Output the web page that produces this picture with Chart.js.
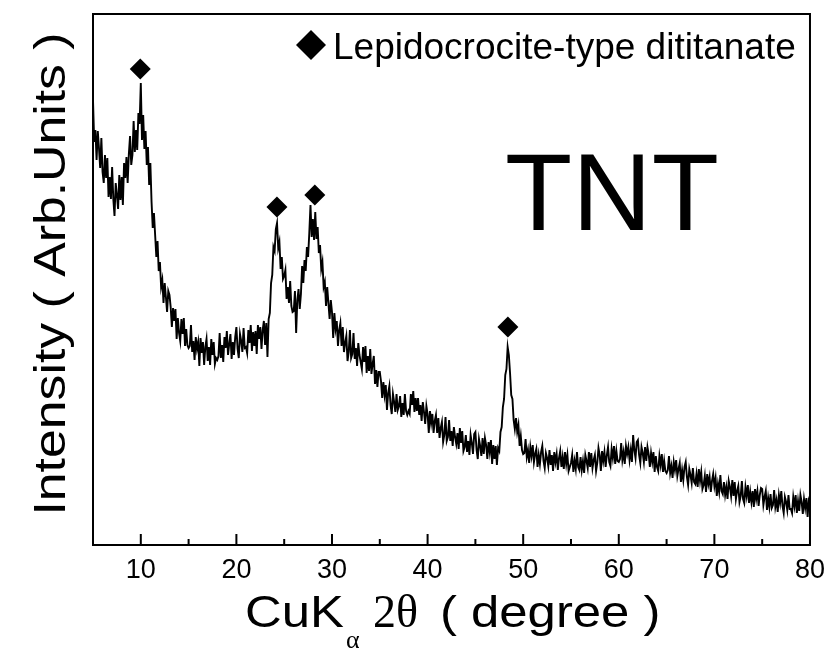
<!DOCTYPE html>
<html>
<head>
<meta charset="utf-8">
<title>TNT XRD pattern</title>
<script src="https://cdn.jsdelivr.net/npm/chart.js@4/dist/chart.umd.min.js"></script>
<style>
  html, body { margin: 0; padding: 0; background: #ffffff; }
  canvas { display: block; }
</style>
</head>
<body>
<canvas id="xrd" width="834" height="650"></canvas>
<script>
// XRD scan of the TNT sample: 2θ from 5° to 80°, one reading every 0.125°
const scanStart = 5;
const scanStep = 0.125;
const intensity = [
  445, 403, 415, 385, 414, 397, 377, 407,   //  5°
  373, 362, 390, 367, 387, 348, 368, 346,   //  6°
  378, 346, 329, 362, 350, 336, 370, 345,   //  7°
  368, 340, 382, 367, 388, 362, 391, 409,   //  8°
  380, 390, 424, 393, 415, 395, 432, 421,   //  9°
  462, 405, 430, 396, 414, 380, 398, 360,   // 10°
  382, 343, 317, 332, 310, 288, 304, 274,   // 11°
  283, 258, 265, 242, 262, 248, 233, 254,   // 12°
  250, 238, 218, 237, 224, 236, 206, 227,   // 13°
  212, 204, 226, 211, 227, 199, 216, 200,   // 14°
  197, 199, 220, 193, 204, 185, 208, 196,   // 15°
  203, 179, 207, 192, 203, 180, 198, 206,   // 16°
  184, 198, 180, 206, 190, 203, 181, 187,   // 17°
  185, 189, 212, 187, 200, 183, 208, 197,   // 18°
  214, 190, 201, 211, 186, 203, 190, 208,   // 19°
  218, 196, 187, 211, 204, 193, 217, 197,   // 20°
  198, 192, 215, 202, 220, 194, 213, 199,   // 21°
  214, 191, 220, 206, 218, 196, 215, 224,   // 22°
  200, 222, 188, 226, 232, 262, 270, 298,   // 23°
  294, 316, 322, 297, 303, 276, 288, 266,   // 24°
  269, 275, 246, 258, 242, 264, 239, 233,   // 25°
  234, 254, 212, 245, 256, 236, 251, 279,   // 26°
  262, 285, 274, 298, 288, 312, 340, 308,   // 27°
  326, 305, 333, 306, 318, 292, 300, 276,   // 28°
  283, 258, 263, 239, 258, 242, 226, 245,   // 29°
  233, 207, 232, 216, 224, 199, 215, 222,   // 30°
  199, 218, 193, 202, 209, 184, 193, 215,   // 31°
  187, 191, 212, 186, 197, 179, 202, 190,   // 32°
  183, 176, 198, 183, 199, 172, 189, 174,   // 33°
  196, 171, 181, 189, 161, 175, 158, 173,   // 34°
  173, 164, 147, 163, 150, 160, 135, 152,   // 35°
  159, 140, 131, 151, 143, 133, 151, 135,   // 36°
  139, 149, 128, 142, 130, 151, 134, 130,   // 37°
  134, 131, 151, 140, 154, 133, 147, 134,   // 38°
  147, 130, 140, 124, 143, 133, 121, 139,   // 39°
  131, 112, 134, 122, 131, 112, 124, 130,   // 40°
  112, 127, 107, 117, 123, 103, 110, 128,   // 41°
  104, 108, 125, 104, 114,  99, 118, 108,   // 42°
  101, 112,  96, 117, 102, 114,  94,  98,   // 43°
  110,  93, 104,  90, 110, 102,  91, 111,   // 44°
  113,  95,  86, 106,  99,  89, 107,  91,   // 45°
  107, 100,  86, 103,  93, 105,  81, 100,   // 46°
   86,  99,  80,  97,  94, 113, 118, 138,   // 47°
  146, 170, 176, 198, 190, 172, 150, 146,   // 48°
  125, 116, 127, 113, 120,  99, 109,  95,   // 49°
   91,  92, 106,  88,  95,  82,  98,  89,   // 50°
  100,  83,  91,  96,  78,  90,  81,  93,   // 51°
   99,  84,  77,  92,  87,  79,  95,  80,   // 52°
   90,  74,  93,  83,  91,  75,  87,  94,   // 53°
   78,  88,  76,  93,  81,  90,  74,  78,   // 54°
   82,  90,  73,  84,  76,  93,  78,  75,   // 55°
   88,  75,  84,  72,  90,  84,  77,  93,   // 56°
   78,  92,  77,  85,  90,  74,  82,  97,   // 57°
   90,  74,  94,  84,  93,  78,  90,  98,   // 58°
   83,  79,  96,  87,  99,  81,  94,  84,   // 59°
   83,  86, 102,  85,  93,  81,  99,  91,   // 60°
   98,  85,  95,  83, 110,  95,  87, 103,   // 61°
  105,  90,  82,  98,  92,  83,  98,  84,   // 62°
   98,  91,  78,  92,  83,  93,  73,  89,   // 63°
   78,  74,  89,  80,  91,  73,  84,  74,   // 64°
   72,  75,  89,  72,  79,  67,  83,  75,   // 65°
   85,  69,  76,  82,  63,  75,  65,  78,   // 66°
   83,  68,  60,  76,  70,  62,  77,  63,   // 67°
   61,  71,  58,  76,  64,  73,  56,  60,   // 68°
   69,  53,  71,  61,  68,  53,  64,  71,   // 69°
   59,  67,  49,  61,  53,  70,  54,  51,   // 70°
   63,  50,  58,  46,  64,  58,  49,  65,   // 71°
   49,  63,  46,  54,  59,  43,  49,  64,   // 72°
   46,  42,  58,  49,  60,  42,  53,  43,   // 73°
   54,  38,  56,  46,  54,  39,  50,  57,   // 74°
   56,  40,  48,  54,  35,  47,  38,  51,   // 75°
   37,  40,  55,  38,  45,  33,  50,  42,   // 76°
   54,  39,  32,  48,  43,  35,  50,  36,   // 77°
   36,  32,  48,  39,  50,  32,  44,  34,   // 78°
   50,  43,  31,  46,  37,  47,  28,  44,   // 79°
   40                                       // 80°
];

// Lepidocrocite-type dititanate reflections (2θ) and the height of their markers
const peakAngles = [9.94, 24.24, 28.2, 48.4];
const peakMarkerHeights = [476, 338, 350, 218];

// Bottom axis ticks
const xTickValues = [10, 20, 30, 40, 50, 60, 70, 80];
const xMinorTickValues = [15, 25, 35, 45, 55, 65, 75];

const SANS = '"Liberation Sans", Arial, Helvetica, sans-serif';
const SERIF = '"Liberation Serif", "Times New Roman", serif';

const tracePoints = intensity.map((v, i) => ({ x: scanStart + i * scanStep, y: v }));
const markerPoints = peakAngles.map((a, i) => ({ x: a, y: peakMarkerHeights[i] }));

// Frame, inward ticks, legend, sample name and axis titles
const decorations = {
  id: 'decorations',
  afterDatasetsDraw(chart) {
    const { ctx, chartArea: a, scales: { x } } = chart;
    ctx.save();
    ctx.fillStyle = '#000';
    ctx.strokeStyle = '#000';

    // plot frame
    ctx.lineWidth = 2;
    ctx.strokeRect(a.left, a.top, a.right - a.left, a.bottom - a.top);

    // ticks pointing into the plot
    ctx.beginPath();
    xTickValues.forEach(v => {
      const px = x.getPixelForValue(v);
      ctx.moveTo(px, a.bottom);
      ctx.lineTo(px, a.bottom - 11);
    });
    xMinorTickValues.forEach(v => {
      const px = x.getPixelForValue(v);
      ctx.moveTo(px, a.bottom);
      ctx.lineTo(px, a.bottom - 6);
    });
    ctx.stroke();

    // legend entry for the marker series
    const lx = 311, ly = 45, lr = 15;
    ctx.beginPath();
    ctx.moveTo(lx, ly - lr);
    ctx.lineTo(lx + lr, ly);
    ctx.lineTo(lx, ly + lr);
    ctx.lineTo(lx - lr, ly);
    ctx.closePath();
    ctx.fill();
    ctx.font = '37px ' + SANS;
    ctx.textAlign = 'left';
    ctx.textBaseline = 'alphabetic';
    ctx.fillText(chart.data.datasets[1].label, 333, 59);

    // sample name
    ctx.font = '110px ' + SANS;
    ctx.fillText('TNT', 505, 230);

    // x-axis title: CuKα 2θ ( degree )
    const xb = 627;
    const stretched = (text, font, px, py, sx) => {
      ctx.save();
      ctx.translate(px, py);
      ctx.scale(sx, 1);
      ctx.font = font;
      ctx.fillText(text, 0, 0);
      ctx.restore();
    };
    stretched('CuK', '45px ' + SANS, 245, xb, 1.13);
    ctx.font = '26px ' + SERIF;
    ctx.fillText('α', 346, 648);
    stretched('2θ', '46px ' + SERIF, 373, xb, 1.0);
    stretched('( degree )', '45px ' + SANS, 440, xb, 1.13);

    // y-axis title
    ctx.save();
    ctx.translate(65, 274);
    ctx.rotate(-Math.PI / 2);
    ctx.scale(1.15, 1);
    ctx.font = '45px ' + SANS;
    ctx.textAlign = 'center';
    ctx.fillText('Intensity ( Arb.Units )', 0, 0);
    ctx.restore();

    ctx.restore();
  }
};

new Chart(document.getElementById('xrd'), {
  type: 'line',
  data: {
    datasets: [
      {
        label: 'TNT',
        data: tracePoints,
        borderColor: '#000',
        borderWidth: 1.9,
        pointRadius: 0,
        tension: 0,
        fill: false
      },
      {
        label: 'Lepidocrocite-type dititanate',
        data: markerPoints,
        showLine: false,
        pointStyle: 'rectRot',
        pointRadius: 10.5,
        pointBackgroundColor: '#000',
        pointBorderWidth: 0
      }
    ]
  },
  options: {
    responsive: false,
    animation: false,
    devicePixelRatio: 1,
    layout: { padding: { left: 93, top: 14, right: 21, bottom: 54.6 } },
    plugins: {
      legend: { display: false },
      tooltip: { enabled: false }
    },
    scales: {
      x: {
        type: 'linear',
        min: 5,
        max: 80,
        grid: { display: false, drawTicks: false },
        border: { display: false },
        afterBuildTicks: scale => { scale.ticks = xTickValues.map(v => ({ value: v })); },
        ticks: {
          color: '#000',
          font: { family: SANS, size: 27 },
          padding: 9,
          maxRotation: 0,
          autoSkip: false
        }
      },
      y: { display: false, min: 0, max: 531 }
    }
  },
  plugins: [decorations]
});
</script>
</body>
</html>
